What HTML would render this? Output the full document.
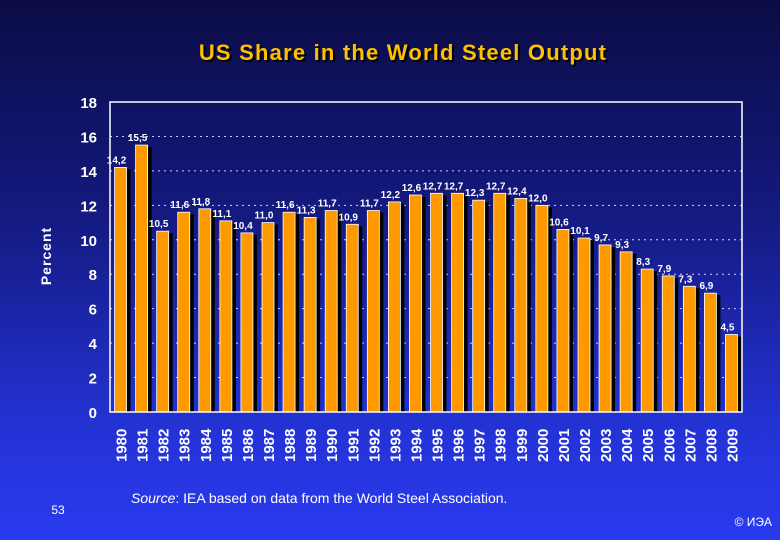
<!DOCTYPE html>
<html><head><meta charset="utf-8"><style>
body{margin:0;width:780px;height:540px;overflow:hidden;background:linear-gradient(#0b0c45 0%,#141a80 40%,#2433d6 80%,#2a3af0 100%);font-family:"Liberation Sans",sans-serif;}
svg{position:absolute;left:0;top:0}
</style></head><body>
<svg width="780" height="540">
<text x="405" y="62" text-anchor="middle" font-size="22" font-weight="bold" letter-spacing="1.2" fill="#000">US Share in the World Steel Output</text>
<text x="403" y="60" text-anchor="middle" font-size="22" font-weight="bold" letter-spacing="1.2" fill="#ffc000">US Share in the World Steel Output</text>
<text transform="translate(51,256) rotate(-90)" text-anchor="middle" font-size="14" font-weight="bold" fill="#fff" letter-spacing="1">Percent</text>
<g id="grid"></g><g id="bars"></g><g id="ax"></g>
<text x="58" y="514" text-anchor="middle" font-size="12" fill="#fff">53</text>
<text x="131" y="503" font-size="14" fill="#fff"><tspan font-style="italic">Source</tspan>: IEA based on data from the World Steel Association.</text>
<text x="772" y="526" text-anchor="end" font-size="12" fill="#fff">© ИЭА</text>
</svg>
<script>
const years=[1980,1981,1982,1983,1984,1985,1986,1987,1988,1989,1990,1991,1992,1993,1994,1995,1996,1997,1998,1999,2000,2001,2002,2003,2004,2005,2006,2007,2008,2009];
const values=[14.2,15.5,10.5,11.6,11.8,11.1,10.4,11.0,11.6,11.3,11.7,10.9,11.7,12.2,12.6,12.7,12.7,12.3,12.7,12.4,12.0,10.6,10.1,9.7,9.3,8.3,7.9,7.3,6.9,4.5];
const yTicks=[0,2,4,6,8,10,12,14,16,18];
const NS="http://www.w3.org/2000/svg";
const L=110,R=742,T=102,B=412;
const y=v=>B-(v/18)*(B-T);
const step=(R-L)/years.length;
const x=i=>L+step*(i+0.5);
function mk(t,a,p){const e=document.createElementNS(NS,t);for(const k in a)e.setAttribute(k,a[k]);p.appendChild(e);return e;}
const grid=document.getElementById('grid'),bars=document.getElementById('bars'),ax=document.getElementById('ax');
yTicks.forEach(v=>{
 if(v>0&&v<18){const g=mk('line',{x1:L,x2:R,y1:y(v),y2:y(v),stroke:'#c8d0ff','stroke-dasharray':'2,4','stroke-width':1},grid);
 
 }
 const t=mk('text',{x:97,y:y(v)+6,'text-anchor':'end','font-size':15,'font-weight':'bold',fill:'#fff'},ax);t.textContent=v;
 
 
});
const fr=mk('rect',{x:L,y:T,width:R-L,height:B-T,fill:'none',stroke:'#fff','stroke-width':1.5},ax);


values.forEach((v,i)=>{
 const bw=12,bx=x(i)-bw/2;
 const s=mk('rect',{x:bx+4,y:y(v)+2,width:bw,height:B-y(v)-2,fill:'#000'},bars);
 
 
 const b=mk('rect',{x:bx,y:y(v),width:bw,height:B-y(v),fill:'#ff9900',stroke:'#fff','stroke-width':0.8},bars);
 
 
 const lb=mk('text',{x:x(i)-4,y:y(v)-4,'text-anchor':'middle','font-size':10,'font-weight':'bold',fill:'#fff'},bars);
 lb.textContent=v.toFixed(1).replace('.',',');
 
 
 const yl=mk('text',{transform:`translate(${x(i)+6},462) rotate(-90)`,'font-size':15,'font-weight':'bold',fill:'#fff'},ax);
 yl.textContent=years[i];
 
 
});
</script>
</body></html>
